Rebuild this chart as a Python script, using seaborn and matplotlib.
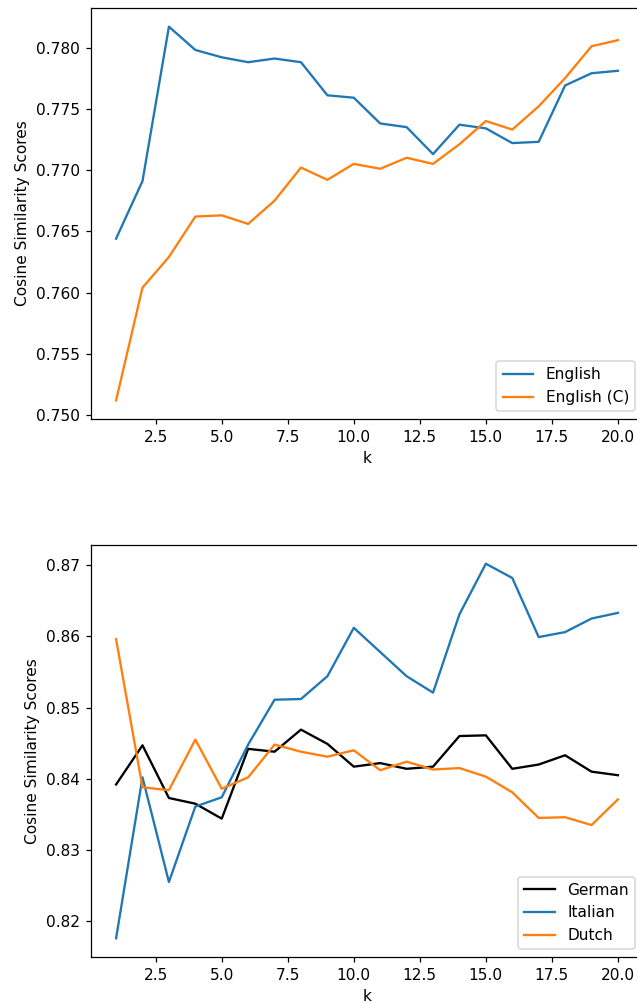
import matplotlib
matplotlib.use("Agg")
import matplotlib.pyplot as plt
import seaborn as sns
import numpy as np

k = list(range(1, 21))

english = [0.7644, 0.7691, 0.7817, 0.7798, 0.7792, 0.7788, 0.7791, 0.7788, 0.7761, 0.7759,
           0.7738, 0.7735, 0.7713, 0.7737, 0.7734, 0.7722, 0.7723, 0.7769, 0.7779, 0.7781]
english_c = [0.7512, 0.7604, 0.7629, 0.7662, 0.7663, 0.7656, 0.7675, 0.7702, 0.7692, 0.7705,
             0.7701, 0.7710, 0.7705, 0.7721, 0.7740, 0.7733, 0.7752, 0.7775, 0.7801, 0.7806]

german = [0.8392, 0.8447, 0.8373, 0.8365, 0.8344, 0.8442, 0.8438, 0.8469, 0.8449, 0.8417,
          0.8422, 0.8414, 0.8417, 0.8460, 0.8461, 0.8414, 0.8420, 0.8433, 0.8410, 0.8405]
italian = [0.8176, 0.8402, 0.8255, 0.8361, 0.8374, 0.8448, 0.8511, 0.8512, 0.8544, 0.8612,
           0.8578, 0.8544, 0.8521, 0.8631, 0.8702, 0.8682, 0.8599, 0.8606, 0.8625, 0.8633]
dutch = [0.8596, 0.8388, 0.8384, 0.8455, 0.8386, 0.8402, 0.8448, 0.8438, 0.8431, 0.8440,
         0.8412, 0.8424, 0.8413, 0.8415, 0.8403, 0.8381, 0.8345, 0.8346, 0.8335, 0.8371]

DPI = 111
fig = plt.figure(figsize=(637 / DPI, 1003 / DPI), dpi=DPI)
ax1 = fig.add_axes([91/637, 1 - 419/1003, 552/637, 411/1003])
ax2 = fig.add_axes([91/637, 1 - 957/1003, 552/637, 412/1003])

sns.lineplot(x=k, y=english, ax=ax1, color="tab:blue", label="English")
sns.lineplot(x=k, y=english_c, ax=ax1, color="tab:orange", label="English (C)")
ax1.set_xlabel("k")
ax1.set_ylabel("Cosine Similarity Scores")
ax1.legend(loc="lower right")

sns.lineplot(x=k, y=german, ax=ax2, color="black", label="German")
sns.lineplot(x=k, y=italian, ax=ax2, color="tab:blue", label="Italian")
sns.lineplot(x=k, y=dutch, ax=ax2, color="tab:orange", label="Dutch")
ax2.set_xlabel("k")
ax2.set_ylabel("Cosine Similarity Scores")
ax2.legend(loc="lower right")

fig.savefig("out.png", dpi=DPI)
